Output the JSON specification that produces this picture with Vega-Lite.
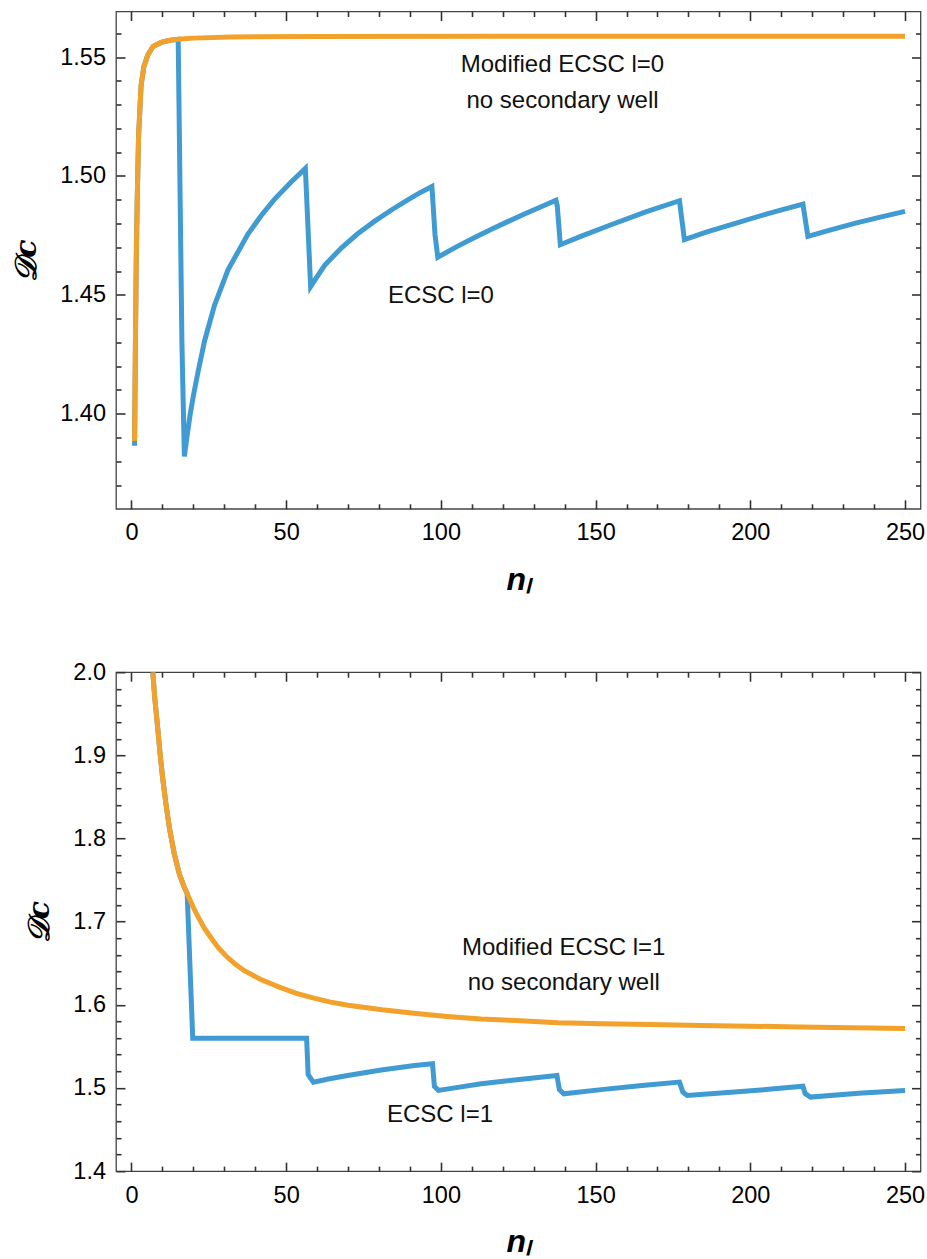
{
  "$schema": "https://vega.github.io/schema/vega-lite/v6.json",
  "background": "white",
  "padding": {"left": 10, "top": 9.5, "right": 5, "bottom": 5},
  "bounds": "flush",
  "spacing": 162.7,
  "config": {
    "view": {"stroke": "#444444", "strokeWidth": 1.3},
    "axis": {"grid": false, "domain": false, "ticks": true, "tickColor": "#333333", "tickWidth": 1.6, "tickOpacity": 1, "labelFontSize": 23.5, "labelFont": "Liberation Sans", "labelColor": "black"}
  },
  "datasets": {
    "top_blue": [
      {"n": 1.0, "D": 1.3865}, {"n": 1.3, "D": 1.433}, {"n": 1.55, "D": 1.465}, {"n": 1.84, "D": 1.489},
      {"n": 2.3, "D": 1.517}, {"n": 3.1, "D": 1.538}, {"n": 4.0, "D": 1.546}, {"n": 5.3, "D": 1.551},
      {"n": 7.0, "D": 1.5545}, {"n": 9.6, "D": 1.5562}, {"n": 12, "D": 1.557}, {"n": 15.1, "D": 1.5575},
      {"n": 16.3, "D": 1.43}, {"n": 17.1, "D": 1.382}, {"n": 18.0, "D": 1.391}, {"n": 19.0, "D": 1.4},
      {"n": 20.0, "D": 1.4075}, {"n": 21.5, "D": 1.4175}, {"n": 23.6, "D": 1.4305}, {"n": 26.8, "D": 1.4455},
      {"n": 31.2, "D": 1.4605}, {"n": 37.6, "D": 1.4755}, {"n": 42.0, "D": 1.4835}, {"n": 46.2, "D": 1.4902},
      {"n": 51.6, "D": 1.4975}, {"n": 56.2, "D": 1.5032}, {"n": 57.9, "D": 1.4535}, {"n": 60.0, "D": 1.4577},
      {"n": 62.5, "D": 1.4625}, {"n": 67.8, "D": 1.4697}, {"n": 73.0, "D": 1.4756}, {"n": 78.5, "D": 1.4809},
      {"n": 84.0, "D": 1.4857}, {"n": 89.3, "D": 1.49}, {"n": 93.0, "D": 1.4928}, {"n": 97.1, "D": 1.4956},
      {"n": 98.1, "D": 1.4753}, {"n": 99.0, "D": 1.4658}, {"n": 105.0, "D": 1.4702}, {"n": 110.9, "D": 1.4741},
      {"n": 116.0, "D": 1.4774}, {"n": 121.6, "D": 1.4808}, {"n": 127.0, "D": 1.484}, {"n": 132.4, "D": 1.4871},
      {"n": 137.2, "D": 1.4898}, {"n": 137.6, "D": 1.4875}, {"n": 138.6, "D": 1.4711}, {"n": 145.0, "D": 1.4745},
      {"n": 155.0, "D": 1.4795}, {"n": 166.0, "D": 1.4848}, {"n": 177.1, "D": 1.4896}, {"n": 178.7, "D": 1.4732},
      {"n": 186.0, "D": 1.4765}, {"n": 194.9, "D": 1.48}, {"n": 205.7, "D": 1.4842}, {"n": 217.0, "D": 1.4882},
      {"n": 218.6, "D": 1.4746}, {"n": 226.0, "D": 1.4773}, {"n": 234.0, "D": 1.4802}, {"n": 242.0, "D": 1.4827},
      {"n": 250.0, "D": 1.4851}
    ],
    "top_orange": [
      {"n": 1.0, "D": 1.3885}, {"n": 1.3, "D": 1.433}, {"n": 1.55, "D": 1.465}, {"n": 1.84, "D": 1.489},
      {"n": 2.3, "D": 1.517}, {"n": 3.1, "D": 1.538}, {"n": 4.0, "D": 1.546}, {"n": 5.3, "D": 1.551},
      {"n": 7.0, "D": 1.5545}, {"n": 9.6, "D": 1.5562}, {"n": 12, "D": 1.557}, {"n": 15, "D": 1.5575},
      {"n": 20, "D": 1.558}, {"n": 32, "D": 1.5585}, {"n": 60, "D": 1.5587}, {"n": 120, "D": 1.5588},
      {"n": 250, "D": 1.5588}
    ],
    "bot_blue": [
      {"n": 6.9, "D": 2.0}, {"n": 7.5, "D": 1.97}, {"n": 8.5, "D": 1.932}, {"n": 9.3, "D": 1.9},
      {"n": 10.1, "D": 1.872}, {"n": 11.2, "D": 1.84}, {"n": 12.3, "D": 1.812}, {"n": 13.8, "D": 1.782},
      {"n": 15.5, "D": 1.757}, {"n": 17.0, "D": 1.742}, {"n": 18.0, "D": 1.734}, {"n": 19.8, "D": 1.5598},
      {"n": 56.6, "D": 1.5598}, {"n": 57.1, "D": 1.516}, {"n": 58.8, "D": 1.507}, {"n": 64, "D": 1.511},
      {"n": 69.9, "D": 1.515}, {"n": 80.7, "D": 1.5215}, {"n": 91.5, "D": 1.527}, {"n": 97.3, "D": 1.529},
      {"n": 97.9, "D": 1.502}, {"n": 99.2, "D": 1.497}, {"n": 106, "D": 1.501}, {"n": 113, "D": 1.505},
      {"n": 123.8, "D": 1.5095}, {"n": 137.5, "D": 1.515}, {"n": 138.3, "D": 1.498}, {"n": 139.7, "D": 1.493},
      {"n": 151.8, "D": 1.498}, {"n": 165, "D": 1.503}, {"n": 177.1, "D": 1.507}, {"n": 178.2, "D": 1.495},
      {"n": 179.6, "D": 1.491}, {"n": 194.9, "D": 1.495}, {"n": 205, "D": 1.498}, {"n": 217.0, "D": 1.502},
      {"n": 217.7, "D": 1.4935}, {"n": 219.4, "D": 1.489}, {"n": 235, "D": 1.4935}, {"n": 250, "D": 1.497}
    ],
    "bot_orange": [
      {"n": 6.9, "D": 2.0}, {"n": 7.5, "D": 1.97}, {"n": 8.5, "D": 1.932}, {"n": 9.3, "D": 1.9},
      {"n": 10.1, "D": 1.872}, {"n": 11.2, "D": 1.84}, {"n": 12.3, "D": 1.812}, {"n": 13.8, "D": 1.782},
      {"n": 15.5, "D": 1.757}, {"n": 17.0, "D": 1.742}, {"n": 18.2, "D": 1.732}, {"n": 20.0, "D": 1.717},
      {"n": 21.5, "D": 1.706}, {"n": 23.5, "D": 1.6925}, {"n": 25.8, "D": 1.68}, {"n": 28.0, "D": 1.669},
      {"n": 30.5, "D": 1.659}, {"n": 33.5, "D": 1.649}, {"n": 36.5, "D": 1.641}, {"n": 42, "D": 1.63},
      {"n": 48, "D": 1.621}, {"n": 53, "D": 1.614}, {"n": 59, "D": 1.608}, {"n": 64, "D": 1.6035},
      {"n": 70, "D": 1.5995}, {"n": 81, "D": 1.594}, {"n": 92, "D": 1.5895}, {"n": 102, "D": 1.586},
      {"n": 113, "D": 1.583}, {"n": 124, "D": 1.581}, {"n": 138, "D": 1.5785}, {"n": 152, "D": 1.5772},
      {"n": 168, "D": 1.5762}, {"n": 184, "D": 1.5752}, {"n": 200, "D": 1.5743}, {"n": 216, "D": 1.5734},
      {"n": 233, "D": 1.5725}, {"n": 250, "D": 1.5716}
    ],
    "top_labels_a": [
      {"n": 100, "D": 1.4466, "label": "ECSC l=0"}
    ],
    "top_labels_b": [
      {"n": 139.3, "D": 1.5436, "label": "Modified ECSC l=0"},
      {"n": 139.3, "D": 1.5284, "label": "no secondary well"}
    ],
    "bot_labels_a": [
      {"n": 99.7, "D": 1.4588, "label": "ECSC l=1"}
    ],
    "bot_labels_b": [
      {"n": 139.7, "D": 1.6593, "label": "Modified ECSC l=1"},
      {"n": 139.7, "D": 1.6172, "label": "no secondary well"}
    ]
  },
  "vconcat": [
    {
      "width": 804.5,
      "height": 497.3,
      "resolve": {"axis": {"x": "independent", "y": "independent"}},
      "layer": [
        {
          "data": {"name": "top_blue"},
          "mark": {"type": "line", "color": "#3f9bd1", "strokeWidth": 5, "clip": true},
          "encoding": {
            "x": {"field": "n", "type": "quantitative",
              "scale": {"domain": [-5, 255], "nice": false},
              "axis": {"orient": "bottom", "values": [0, 50, 100, 150, 200, 250], "tickSize": 9, "offset": -9, "tickColor": "#333333", "tickWidth": 1.6, "labelPadding": 12, "labelFlush": false,
                "title": "nₗ", "titleFont": "Liberation Sans", "titleFontSize": 32, "titleFontStyle": "italic", "titleFontWeight": "bold",
                "titleBaseline": "alphabetic", "titleY": 90}},
            "y": {"field": "D", "type": "quantitative",
              "scale": {"domain": [1.36, 1.5692], "nice": false, "zero": false},
              "axis": {"orient": "left", "values": [1.4, 1.45, 1.5, 1.55], "format": ".2f", "tickSize": 9, "offset": -9, "tickColor": "#333333", "tickWidth": 1.6, "labelPadding": 10.5,
                "title": "𝒟c", "titleFont": "DejaVu Serif", "titleFontSize": 30, "titleFontWeight": "bold", "titleFontStyle": "italic",
                "titleX": -98.8, "titleY": 248.65, "titleBaseline": "middle", "titleAlign": "center", "titleAngle": 270}}
          }
        },
        {
          "data": {"name": "top_orange"},
          "mark": {"type": "line", "color": "#f2a12a", "strokeWidth": 5, "clip": true},
          "encoding": {
            "x": {"field": "n", "type": "quantitative",
              "scale": {"domain": [-5, 255], "nice": false},
              "axis": {"orient": "top", "values": [0, 50, 100, 150, 200, 250], "tickSize": 9, "offset": -9, "tickColor": "#333333", "tickWidth": 1.6, "labels": false, "title": null}},
            "y": {"field": "D", "type": "quantitative",
              "scale": {"domain": [1.36, 1.5692], "nice": false, "zero": false},
              "axis": {"orient": "right", "values": [1.4, 1.45, 1.5, 1.55], "tickSize": 9, "offset": -9, "tickColor": "#333333", "tickWidth": 1.6, "labels": false, "title": null}}
          }
        },
        {
          "data": {"name": "top_labels_a"},
          "mark": {"type": "text", "font": "Liberation Sans", "fontSize": 24, "align": "center", "baseline": "alphabetic", "color": "#111111"},
          "encoding": {
            "x": {"field": "n", "type": "quantitative",
              "scale": {"domain": [-5, 255], "nice": false},
              "axis": {"orient": "bottom", "values": [10, 20, 30, 40, 60, 70, 80, 90, 110, 120, 130, 140, 160, 170, 180, 190, 210, 220, 230, 240], "tickSize": 5, "offset": -5, "tickColor": "#333333", "tickWidth": 1.6, "labels": false, "title": null}},
            "y": {"field": "D", "type": "quantitative",
              "scale": {"domain": [1.36, 1.5692], "nice": false, "zero": false},
              "axis": {"orient": "left", "values": [1.37, 1.38, 1.39, 1.41, 1.42, 1.43, 1.44, 1.46, 1.47, 1.48, 1.49, 1.51, 1.52, 1.53, 1.54, 1.56], "tickSize": 5, "offset": -5, "tickColor": "#333333", "tickWidth": 1.6, "labels": false, "title": null}},
            "text": {"field": "label"}
          }
        },
        {
          "data": {"name": "top_labels_b"},
          "mark": {"type": "text", "font": "Liberation Sans", "fontSize": 24, "align": "center", "baseline": "alphabetic", "color": "#111111"},
          "encoding": {
            "x": {"field": "n", "type": "quantitative",
              "scale": {"domain": [-5, 255], "nice": false},
              "axis": {"orient": "top", "values": [10, 20, 30, 40, 60, 70, 80, 90, 110, 120, 130, 140, 160, 170, 180, 190, 210, 220, 230, 240], "tickSize": 5, "offset": -5, "tickColor": "#333333", "tickWidth": 1.6, "labels": false, "title": null}},
            "y": {"field": "D", "type": "quantitative",
              "scale": {"domain": [1.36, 1.5692], "nice": false, "zero": false},
              "axis": {"orient": "right", "values": [1.37, 1.38, 1.39, 1.41, 1.42, 1.43, 1.44, 1.46, 1.47, 1.48, 1.49, 1.51, 1.52, 1.53, 1.54, 1.56], "tickSize": 5, "offset": -5, "tickColor": "#333333", "tickWidth": 1.6, "labels": false, "title": null}},
            "text": {"field": "label"}
          }
        }
      ]
    },
    {
      "width": 804.5,
      "height": 498.9,
      "resolve": {"axis": {"x": "independent", "y": "independent"}},
      "layer": [
        {
          "data": {"name": "bot_blue"},
          "mark": {"type": "line", "color": "#3f9bd1", "strokeWidth": 5, "clip": true},
          "encoding": {
            "x": {"field": "n", "type": "quantitative",
              "scale": {"domain": [-5, 255], "nice": false},
              "axis": {"orient": "bottom", "values": [0, 50, 100, 150, 200, 250], "tickSize": 9, "offset": -9, "tickColor": "#333333", "tickWidth": 1.6, "labelPadding": 12, "labelFlush": false,
                "title": "nₗ", "titleFont": "Liberation Sans", "titleFontSize": 32, "titleFontStyle": "italic", "titleFontWeight": "bold",
                "titleBaseline": "alphabetic", "titleY": 89}},
            "y": {"field": "D", "type": "quantitative",
              "scale": {"domain": [1.4, 2.0], "nice": false, "zero": false},
              "axis": {"orient": "left", "values": [1.4, 1.5, 1.6, 1.7, 1.8, 1.9, 2.0], "format": ".1f", "tickSize": 9, "offset": -9, "tickColor": "#333333", "tickWidth": 1.6, "labelPadding": 10.5,
                "title": "𝒟c", "titleFont": "DejaVu Serif", "titleFontSize": 30, "titleFontWeight": "bold", "titleFontStyle": "italic",
                "titleX": -85.8, "titleY": 249.45, "titleBaseline": "middle", "titleAlign": "center", "titleAngle": 270}}
          }
        },
        {
          "data": {"name": "bot_orange"},
          "mark": {"type": "line", "color": "#f2a12a", "strokeWidth": 5, "clip": true},
          "encoding": {
            "x": {"field": "n", "type": "quantitative",
              "scale": {"domain": [-5, 255], "nice": false},
              "axis": {"orient": "top", "values": [0, 50, 100, 150, 200, 250], "tickSize": 9, "offset": -9, "tickColor": "#333333", "tickWidth": 1.6, "labels": false, "title": null}},
            "y": {"field": "D", "type": "quantitative",
              "scale": {"domain": [1.4, 2.0], "nice": false, "zero": false},
              "axis": {"orient": "right", "values": [1.4, 1.5, 1.6, 1.7, 1.8, 1.9, 2.0], "tickSize": 9, "offset": -9, "tickColor": "#333333", "tickWidth": 1.6, "labels": false, "title": null}}
          }
        },
        {
          "data": {"name": "bot_labels_a"},
          "mark": {"type": "text", "font": "Liberation Sans", "fontSize": 24, "align": "center", "baseline": "alphabetic", "color": "#111111"},
          "encoding": {
            "x": {"field": "n", "type": "quantitative",
              "scale": {"domain": [-5, 255], "nice": false},
              "axis": {"orient": "bottom", "values": [10, 20, 30, 40, 60, 70, 80, 90, 110, 120, 130, 140, 160, 170, 180, 190, 210, 220, 230, 240], "tickSize": 5, "offset": -5, "tickColor": "#333333", "tickWidth": 1.6, "labels": false, "title": null}},
            "y": {"field": "D", "type": "quantitative",
              "scale": {"domain": [1.4, 2.0], "nice": false, "zero": false},
              "axis": {"orient": "left", "values": [1.42, 1.44, 1.46, 1.48, 1.52, 1.54, 1.56, 1.58, 1.62, 1.64, 1.66, 1.68, 1.72, 1.74, 1.76, 1.78, 1.82, 1.84, 1.86, 1.88, 1.92, 1.94, 1.96, 1.98], "tickSize": 5, "offset": -5, "tickColor": "#333333", "tickWidth": 1.6, "labels": false, "title": null}},
            "text": {"field": "label"}
          }
        },
        {
          "data": {"name": "bot_labels_b"},
          "mark": {"type": "text", "font": "Liberation Sans", "fontSize": 24, "align": "center", "baseline": "alphabetic", "color": "#111111"},
          "encoding": {
            "x": {"field": "n", "type": "quantitative",
              "scale": {"domain": [-5, 255], "nice": false},
              "axis": {"orient": "top", "values": [10, 20, 30, 40, 60, 70, 80, 90, 110, 120, 130, 140, 160, 170, 180, 190, 210, 220, 230, 240], "tickSize": 5, "offset": -5, "tickColor": "#333333", "tickWidth": 1.6, "labels": false, "title": null}},
            "y": {"field": "D", "type": "quantitative",
              "scale": {"domain": [1.4, 2.0], "nice": false, "zero": false},
              "axis": {"orient": "right", "values": [1.42, 1.44, 1.46, 1.48, 1.52, 1.54, 1.56, 1.58, 1.62, 1.64, 1.66, 1.68, 1.72, 1.74, 1.76, 1.78, 1.82, 1.84, 1.86, 1.88, 1.92, 1.94, 1.96, 1.98], "tickSize": 5, "offset": -5, "tickColor": "#333333", "tickWidth": 1.6, "labels": false, "title": null}},
            "text": {"field": "label"}
          }
        }
      ]
    }
  ]
}
